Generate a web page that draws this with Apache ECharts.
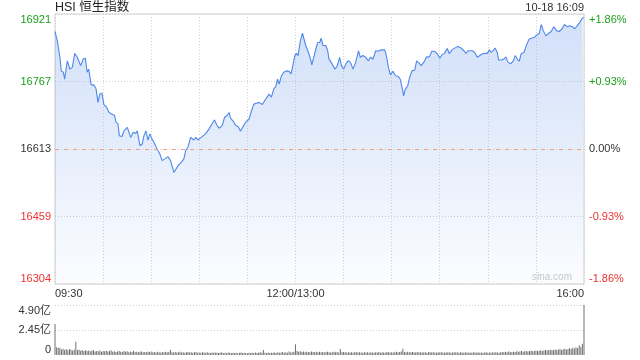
<!DOCTYPE html>
<html><head><meta charset="utf-8">
<script src="https://cdn.jsdelivr.net/npm/echarts@6/dist/echarts.min.js"></script>
<style>html,body{margin:0;padding:0;background:#fff}#c{width:640px;height:360px}</style>
</head><body><div id="c"></div>
<script>
// minutes since 09:30 (trading minutes, lunch break removed; 150 = 12:00/13:00, 330 = 16:00)
const times = [0,1.4,3.1,3.9,5.2,6.0,7.7,9.3,10.8,12.3,13.9,16.0,17.6,18.9,20.1,21.0,22.6,24.3,25.6,26.8,28.0,29.3,30.5,32.2,33.7,35.7,37.2,38.0,39.3,40.1,41.8,43.0,45.1,47.2,48.8,50.3,51.3,53.0,54.4,55.5,56.7,58.0,59.2,60.5,61.7,62.9,64.2,65.4,66.9,68.6,70.4,72.1,74.2,75.2,76.7,78.7,80.4,81.5,82.9,84.6,85.6,86.6,87.9,89.1,90.8,92.0,93.9,96.0,98.0,99.5,101.1,102.4,104.3,105.8,107.4,108.6,109.5,111.1,
112.8,114.5,115.7,117.0,119.0,121.1,122.6,124.0,125.7,127.3,128.2,129.4,130.9,132.3,133.6,135.0,136.5,137.7,138.8,139.8,141.3,142.7,144.4,146.0,147.3,148.5,149.6,150.6,151.6,153.1,154.4,155.2,156.4,158.1,159.4,160.2,161.4,162.7,163.9,165.2,166.0,167.2,168.9,170.1,170.9,172.2,173.4,174.7,175.9,177.6,178.7,180.1,181.4,182.8,184.3,185.9,187.6,189.3,190.5,192.1,193.8,195.5,196.7,198.4,200.0,201.5,203.6,205.7,206.7,208.0,209.2,210.8,212.5,214.2,215.4,216.3,217.5,218.3,220.0,221.2,
222.7,224.4,225.6,227.3,228.5,230.1,231.8,233.5,235.1,236.8,238.5,240.1,241.4,243.0,244.7,246.0,247.6,249.3,251.3,253.5,255.1,256.3,257.6,258.8,260.5,262.2,263.4,265.0,266.7,268.4,269.7,270.9,272.2,273.4,274.6,275.9,276.7,278.4,280.0,281.3,282.5,284.2,285.9,287.1,288.4,289.6,290.8,292.5,294.2,295.8,297.5,299.1,300.8,302.1,303.3,304.6,306.2,307.9,309.5,311.2,312.9,314.5,316.2,317.8,319.5,321.1,322.8,324.1,325.7,327.4,329.0,330];
const prices = [16881,16860,16822,16791,16788,16772,16814,16795,16799,16831,16822,16803,16818,16820,16788,16795,16759,16759,16750,16719,16738,16740,16714,16708,16696,16692,16689,16674,16670,16643,16641,16654,16662,16639,16651,16648,16654,16620,16624,16643,16654,16633,16647,16635,16628,16618,16609,16601,16586,16590,16595,16586,16559,16562,16574,16582,16590,16609,16616,16639,16643,16633,16639,16633,16638,16639,16647,16658,16670,16679,16666,16660,16666,16685,16689,16696,16683,16676,
16666,16663,16653,16662,16674,16681,16700,16715,16717,16719,16715,16714,16724,16731,16738,16731,16750,16755,16772,16761,16780,16788,16791,16790,16784,16784,16826,16831,16826,16860,16877,16875,16849,16833,16818,16805,16822,16841,16856,16856,16866,16849,16849,16837,16818,16811,16807,16795,16801,16822,16803,16795,16807,16814,16811,16795,16811,16837,16822,16826,16822,16814,16822,16818,16837,16836,16839,16839,16826,16799,16782,16790,16780,16778,16772,16757,16734,16747,16757,16776,
16791,16793,16814,16808,16803,16811,16823,16823,16836,16836,16830,16820,16828,16831,16842,16830,16839,16843,16847,16843,16837,16831,16837,16841,16837,16831,16822,16826,16830,16831,16831,16839,16833,16836,16843,16833,16816,16816,16818,16823,16811,16807,16814,16826,16818,16813,16830,16833,16851,16864,16866,16868,16874,16877,16897,16883,16871,16877,16881,16892,16883,16881,16887,16897,16892,16894,16892,16887,16894,16902,16912,16912];
// per-minute turnover, 亿 (index = minute since 09:30)
const volumes = [3.04,0.75,0.68,0.72,0.55,0.62,0.50,0.58,0.47,0.60,
0.52,0.44,0.55,1.30,0.48,0.52,0.42,0.50,0.40,0.46,
0.38,0.44,0.36,0.42,0.48,0.35,0.40,0.37,0.45,0.33,
0.40,0.36,0.42,0.34,0.38,0.46,0.32,0.37,0.30,0.35,
0.40,0.33,0.29,0.38,0.31,0.36,0.28,0.34,0.30,0.42,
0.29,0.33,0.27,0.31,0.35,0.28,0.30,0.26,0.32,0.29,
0.34,0.27,0.30,0.25,0.31,0.28,0.24,0.29,0.26,0.32,
0.27,0.30,0.52,0.28,0.25,0.29,0.24,0.27,0.31,0.25,
0.28,0.23,0.26,0.30,0.24,0.27,0.22,0.26,0.29,0.23,
0.25,0.22,0.27,0.24,0.21,0.26,0.23,0.20,0.25,0.22,
0.24,0.21,0.19,0.23,0.26,0.20,0.22,0.18,0.24,0.21,
0.19,0.23,0.20,0.22,0.18,0.21,0.25,0.19,0.22,0.20,
0.18,0.23,0.20,0.21,0.19,0.24,0.20,0.22,0.26,0.21,
0.50,0.22,0.20,0.24,0.19,0.23,0.21,0.25,0.20,0.28,
0.22,0.24,0.30,0.21,0.26,0.23,0.35,0.25,0.28,0.32,
1.05,0.38,0.32,0.36,0.30,0.34,0.28,0.33,0.30,0.27,
0.35,0.29,0.26,0.31,0.28,0.32,0.27,0.30,0.25,0.29,
0.33,0.27,0.24,0.28,0.31,0.26,0.29,0.25,0.60,0.28,
0.30,0.26,0.24,0.28,0.25,0.27,0.23,0.29,0.26,0.24,
0.28,0.25,0.22,0.27,0.24,0.26,0.23,0.28,0.25,0.22,
0.26,0.24,0.29,0.23,0.27,0.25,0.22,0.30,0.26,0.24,
0.28,0.25,0.27,0.32,0.26,0.29,0.35,0.62,0.30,0.27,
0.31,0.28,0.26,0.30,0.27,0.25,0.29,0.26,0.24,0.28,
0.25,0.27,0.23,0.26,0.29,0.24,0.27,0.25,0.22,0.26,
0.24,0.28,0.25,0.23,0.27,0.24,0.26,0.22,0.25,0.28,
0.24,0.26,0.23,0.27,0.25,0.22,0.26,0.24,0.21,0.25,
0.23,0.27,0.24,0.22,0.26,0.23,0.25,0.21,0.24,0.26,
0.23,0.25,0.22,0.26,0.24,0.28,0.25,0.23,0.27,0.30,
0.26,0.32,0.28,0.35,0.30,0.27,0.33,0.29,0.36,0.31,
0.34,0.38,0.32,0.36,0.40,0.34,0.38,0.42,0.36,0.40,
0.44,0.38,0.42,0.47,0.40,0.45,0.50,0.43,0.48,0.52,
0.46,0.50,0.55,0.48,0.53,0.58,0.50,0.56,0.62,0.54,
0.60,0.66,0.58,0.70,0.64,0.75,0.68,0.95,0.80,1.10,
4.90];
const yTickLabels = ['16304','16459','16613','16767','16921'];
const pctTickLabels = ['-1.86%','-0.93%','0.00%','+0.93%','+1.86%'];
const volTickLabels = ['0','2.45亿','4.90亿'];
const xLabelMinutes = [0,150,330];
const xLabelTexts = ['09:30','12:00/13:00','16:00'];
const priceMin = 16304, priceMax = 16921, prevClose = 16612.5;
const volMax = 4.90;
const titleText = 'HSI 恒生指数';
const dateText = '10-18 16:09';

const FONT = 'Arial, "Liberation Sans", "Noto Sans CJK SC", sans-serif';
const GREEN = '#1a9e1a', RED = '#ee3030', DARK = '#333';
const tickColor = v => v > 2 ? GREEN : (v < 2 ? RED : DARK);

const chart = echarts.init(document.getElementById('c'), null, {renderer: 'canvas'});
const lineData = times.map((t, i) => [t, prices[i]]);
const volData = volumes.map((v, i) => [i, v]);

const xCommon = {type: 'value', min: 0, max: 330, interval: 30,
  axisLine: {show: false}, axisTick: {show: false}};

chart.setOption({
  animation: false,
  textStyle: {fontFamily: FONT},
  title: [
    {text: titleText, left: 55, top: 1, padding: 0, textStyle: {fontSize: 12.5, fontWeight: 'normal', color: '#222', fontFamily: FONT}},
    {text: dateText, right: 56, top: 2, padding: 0, textStyle: {fontSize: 11, fontWeight: 'normal', color: DARK, fontFamily: FONT}}
  ],
  grid: [
    {left: 55, right: 56, top: 14, height: 270, show: true, borderColor: '#cfcfcf', borderWidth: 1, backgroundColor: 'transparent'},
    {left: 55, right: 56, top: 305, height: 50}
  ],
  xAxis: [
    Object.assign({}, xCommon, {gridIndex: 0,
      splitLine: {show: true, lineStyle: {color: '#d2d2d2', type: [1, 2], width: 1}},
      axisLabel: {show: true, fontSize: 11, color: DARK, margin: 4, showMinLabel: true, showMaxLabel: true,
        alignMinLabel: 'left', alignMaxLabel: 'right',
        formatter: v => { const k = xLabelMinutes.indexOf(Math.round(v)); return k >= 0 ? xLabelTexts[k] : ''; }}}),
    Object.assign({}, xCommon, {gridIndex: 1, splitLine: {show: false}, axisLabel: {show: false}})
  ],
  yAxis: [
    {type: 'value', gridIndex: 0, position: 'left', min: 0, max: 4, interval: 1,
      axisLine: {show: false}, axisTick: {show: false},
      splitLine: {show: true, lineStyle: {color: '#d2d2d2', type: [1, 2]}},
      axisLabel: {fontSize: 11, margin: 4, color: v => tickColor(v),
        verticalAlignMinLabel: 'bottom', verticalAlignMaxLabel: 'top',
        formatter: v => yTickLabels[Math.round(v)]}},
    {type: 'value', gridIndex: 0, position: 'right', min: 0, max: 4, interval: 1,
      axisLine: {show: false}, axisTick: {show: false}, splitLine: {show: false},
      axisLabel: {fontSize: 11, margin: 5, color: v => tickColor(v),
        verticalAlignMinLabel: 'bottom', verticalAlignMaxLabel: 'top',
        formatter: v => pctTickLabels[Math.round(v)]}},
    {type: 'value', gridIndex: 0, min: priceMin, max: priceMax, show: false, splitLine: {show: false}},
    {type: 'value', gridIndex: 1, position: 'left', min: 0, max: volMax, interval: volMax / 2,
      axisLine: {show: false}, axisTick: {show: false},
      splitLine: {show: true, lineStyle: {color: ['transparent', '#cfcfcf', '#cfcfcf'], type: [1, 2]}},
      axisLabel: {fontSize: 11, margin: 4, color: DARK,
        verticalAlignMinLabel: 'bottom', verticalAlignMaxLabel: 'top',
        formatter: v => volTickLabels[Math.round(v / (volMax / 2))]}}
  ],
  graphic: [
    {type: 'text', left: 532, top: 272, silent: true,
      style: {text: 'sina.com', fill: '#c8c8c8', font: '10px ' + FONT}}
  ],
  series: [
    {type: 'line', xAxisIndex: 0, yAxisIndex: 2, data: lineData, showSymbol: false, smooth: false,
      lineStyle: {color: '#4f88ea', width: 1.1},
      areaStyle: {color: new echarts.graphic.LinearGradient(0, 0, 0, 1, [
        {offset: 0, color: 'rgba(110,155,235,0.45)'},
        {offset: 1, color: 'rgba(110,155,235,0.04)'}])},
      markLine: {silent: true, symbol: 'none', label: {show: false},
        lineStyle: {color: '#eea27a', type: [4, 5], width: 1},
        data: [{yAxis: prevClose}]}},
    {type: 'bar', xAxisIndex: 1, yAxisIndex: 3, data: volData, barWidth: 1,
      itemStyle: {color: '#707070'}}
  ]
});
</script></body></html>
